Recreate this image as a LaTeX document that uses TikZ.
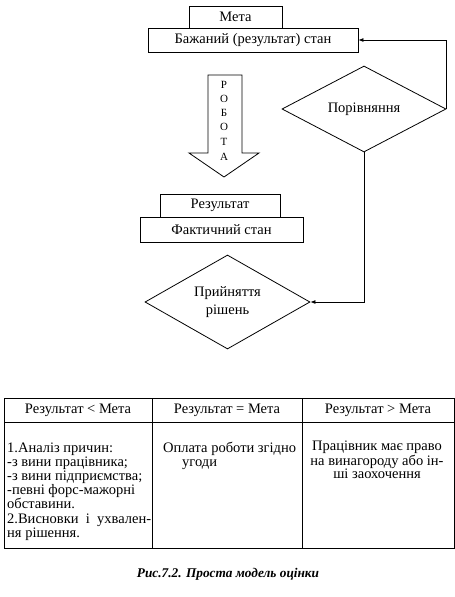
\documentclass[tikz,border=0pt]{standalone}
\usepackage{fontspec}
\setmainfont{Liberation Serif}
\usetikzlibrary{shapes.geometric,arrows.meta}
\begin{document}
\begin{tikzpicture}[x=1pt,y=-1pt,
  every node/.style={font=\fontsize{14.5}{14}\selectfont},
  box/.style={draw,line width=0.8pt,inner sep=0pt},
  dia/.style={draw,line width=0.8pt,diamond,inner sep=0pt,align=center},
  conn/.style={line width=0.8pt,-{Latex[length=5pt,width=4pt]}},
  tline/.style={line width=0.9pt},
  cellblock/.style={anchor=base west,inner sep=0pt,align=left},
  ccell/.style={inner sep=0pt},
  letter/.style={inner sep=0pt,font=\fontsize{11}{11}\selectfont}]
\useasboundingbox (0,0) rectangle (455,597);
% top boxes
\node[box,minimum width=93pt,minimum height=22pt] (meta) at (235.5,17) {Мета};
\node[box,minimum width=210pt,minimum height=24pt] (baz) at (253,40) {Бажаний (результат) стан};
% block arrow
\draw[line width=0.8pt] (208,75) -- (242,75) -- (242,153) -- (259,153) -- (224,177) -- (189,153) -- (208,153) -- cycle;
\node[letter] (l1) at (224,85) {Р};
\node[letter] (l2) at (224,99) {О};
\node[letter] (l3) at (224,113) {Б};
\node[letter] (l4) at (224,127) {О};
\node[letter] (l5) at (224,142) {Т};
\node[letter] (l6) at (224,157) {А};
% result boxes
\node[box,minimum width=120pt,minimum height=23pt] (res) at (220,205.5) {Результат};
\node[box,minimum width=163pt,minimum height=25pt] (fakt) at (221.5,229.5) {Фактичний стан};
% diamonds
\node[dia,minimum width=164pt,minimum height=86pt,aspect=1.9] (por) at (364,109) {Порівняння};
\node[dia,minimum width=165pt,minimum height=94pt,aspect=1.75,font=\fontsize{14.5}{18}\selectfont] (prin) at (227.5,302) {Прийняття\\рішень};
% connectors
\draw[conn] (por.east) |- (baz.east);
\draw[conn] (por.south) |- (prin.east);
% table
\draw[tline] (4,398) rectangle (454,548);
\draw[tline] (4,422) -- (454,422);
\draw[tline] (152,398) -- (152,548);
\draw[tline] (302,398) -- (302,548);
\node[ccell] (h1) at (78,410) {Результат < Мета};
\node[ccell] (h2) at (227,410) {Результат = Мета};
\node[ccell] (h3) at (378,410) {Результат > Мета};
\node[cellblock,font=\fontsize{14.5}{14.2}\selectfont] (a) at (7,537.2)
  {1.Аналіз причин:\\-з вини працівника;\\-з вини підприємства;\\-певні форс-мажорні\\обставини.\\2.Висновки\ \ і\ \ ухвален-\\ня рішення.};
\node[cellblock] (b) at (163,466) {Оплата роботи згідно\\\hspace*{19pt}угоди};
\node[cellblock,anchor=base,align=center,font=\fontsize{14.5}{13}\selectfont] (c) at (377,478)
  {Працівник має право\\на винагороду або ін-\\ші заохочення};
% caption
\node[ccell,font=\fontsize{13.3}{13}\selectfont\bfseries\itshape] (cap) at (228,574) {Рис.7.2. Проста модель оцінки};
\end{tikzpicture}
\end{document}
